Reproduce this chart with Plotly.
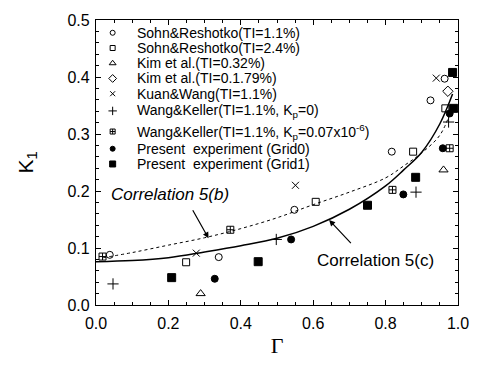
import plotly.graph_objects as go

# ---------------- data ----------------
sohn11_x = [0.038, 0.339, 0.548, 0.817, 0.924, 0.963]
sohn11_y = [0.088, 0.084, 0.167, 0.269, 0.359, 0.397]
sohn24_x = [0.249, 0.607, 0.876, 0.965]
sohn24_y = [0.075, 0.181, 0.269, 0.345]
kim032_x = [0.289, 0.960]
kim032_y = [0.020, 0.237]
kim179_x = [0.972]
kim179_y = [0.375]
kuan_x = [0.277, 0.551, 0.940]
kuan_y = [0.091, 0.210, 0.398]
wk0_x = [0.047, 0.498, 0.884, 0.974]
wk0_y = [0.037, 0.115, 0.198, 0.321]
wk07_x = [0.018, 0.371, 0.819, 0.977]
wk07_y = [0.085, 0.132, 0.202, 0.275]
grid0_x = [0.328, 0.539, 0.849, 0.958, 0.977]
grid0_y = [0.046, 0.115, 0.194, 0.275, 0.336]
grid1_x = [0.209, 0.448, 0.750, 0.883, 0.985, 0.988]
grid1_y = [0.048, 0.076, 0.175, 0.224, 0.408, 0.345]

corr5c_x = [0.0, 0.1, 0.2, 0.3, 0.4, 0.5, 0.6, 0.7, 0.8, 0.85, 0.9, 0.95, 0.985]
corr5c_y = [0.076, 0.078, 0.083, 0.093, 0.104, 0.117, 0.138, 0.168, 0.209, 0.237, 0.268, 0.318, 0.370]
corr5b_x = [0.02, 0.1, 0.2, 0.3, 0.4, 0.5, 0.6, 0.7, 0.8, 0.85, 0.9, 0.95, 0.98]
corr5b_y = [0.083, 0.092, 0.105, 0.118, 0.134, 0.153, 0.176, 0.198, 0.223, 0.244, 0.267, 0.298, 0.340]

legend_labels = [
    "Sohn&Reshotko(TI=1.1%)",
    "Sohn&Reshotko(TI=2.4%)",
    "Kim et al.(TI=0.32%)",
    "Kim et al.(TI=0.1.79%)",
    "Kuan&Wang(TI=1.1%)",
    "Wang&Keller(TI=1.1%, K<sub>p</sub>=0)",
    "Wang&Keller(TI=1.1%, K<sub>p</sub>=0.07x10<sup>-6</sup>)",
    "Present  experiment (Grid0)",
    "Present  experiment (Grid1)",
]

x_ticks = [0.0, 0.2, 0.4, 0.6, 0.8, 1.0]
y_ticks = [0.0, 0.1, 0.2, 0.3, 0.4, 0.5]

# ---------------- styling ----------------
FONT = "Liberation Sans, Arial"
series = [
    (sohn11_x, sohn11_y, "circle-open", 7),
    (sohn24_x, sohn24_y, "square-open", 7),
    (kim032_x, kim032_y, "triangle-up-open", 8),
    (kim179_x, kim179_y, "diamond-open", 8),
    (kuan_x, kuan_y, "x-thin-open", 7),
    (wk0_x, wk0_y, "cross-thin-open", 8),
    (wk07_x, wk07_y, "square-cross-open", 7),
    (grid0_x, grid0_y, "circle", 7),
    (grid1_x, grid1_y, "square", 8),
]

fig = go.Figure()

fig.add_trace(go.Scatter(x=corr5b_x, y=corr5b_y, mode="lines", line_shape="spline",
                         line=dict(color="black", width=1, dash="dot"), showlegend=False))
fig.add_trace(go.Scatter(x=corr5c_x, y=corr5c_y, mode="lines", line_shape="spline",
                         line=dict(color="black", width=1.5), showlegend=False))

for xs, ys, sym, sz in series:
    fig.add_trace(go.Scatter(x=xs, y=ys, mode="markers", showlegend=False,
                             marker=dict(symbol=sym, size=sz, color="black",
                                         line=dict(color="black", width=1))))

# compact legend: symbols on a helper 0..1 axis, labels as annotations
PLOT_TOP, PLOT_H = 15, 290
row_px = [28, 43.5, 59, 74.5, 90, 107.5, 128.5, 146, 161.5]
rows = [(PLOT_TOP + PLOT_H - p) / PLOT_H for p in row_px]
leg_sym_x = 0.046
leg_txt_x = 0.107
for (xs, ys, sym, sz), yy, lab in zip(series, rows, legend_labels):
    fig.add_trace(go.Scatter(x=[leg_sym_x], y=[yy], xaxis="x2", yaxis="y2", mode="markers",
                             showlegend=False, hoverinfo="skip",
                             marker=dict(symbol=sym, size=sz - 2, color="black",
                                         line=dict(color="black", width=1))))
    fig.add_annotation(x=leg_txt_x, y=yy, xref="x2", yref="y2", text=lab, showarrow=False,
                       xanchor="left", yanchor="middle",
                       font=dict(family=FONT, size=14, color="black"))

# correlation labels and arrows
fig.add_annotation(x=0.205, y=0.193, text="<i>Correlation 5(b)</i>", showarrow=False,
                   font=dict(family=FONT, size=17, color="black"))
fig.add_annotation(x=0.311, y=0.117, ax=0.265, ay=0.169, axref="x", ayref="y",
                   text="", showarrow=True, arrowhead=2, arrowsize=1, arrowwidth=1.2,
                   arrowcolor="black")
fig.add_annotation(x=0.772, y=0.078, text="Correlation 5(c)", showarrow=False,
                   font=dict(family=FONT, size=17, color="black"))
fig.add_annotation(x=0.644, y=0.149, ax=0.708, ay=0.106, axref="x", ayref="y",
                   text="", showarrow=True, arrowhead=2, arrowsize=1, arrowwidth=1.2,
                   arrowcolor="black")

axis_common = dict(showline=True, linecolor="black", linewidth=1.3, mirror="ticks",
                   ticks="inside", ticklen=5, tickwidth=1, tickcolor="black",
                   showgrid=False, zeroline=False,
                   tickfont=dict(family=FONT, size=16, color="black"))

fig.update_layout(
    width=481, height=371,
    margin=dict(l=96, r=19, t=15, b=66),
    paper_bgcolor="white", plot_bgcolor="white",
    xaxis=dict(range=[0.0, 1.0], tickvals=x_ticks, ticktext=[f"{v:.1f}" for v in x_ticks],
               minor=dict(dtick=0.05, ticks="inside", ticklen=3, tickcolor="black"),
               ticklabelstandoff=4,
               title=dict(text="Γ", font=dict(family="Liberation Serif, Times New Roman", size=22,
                                              color="black"), standoff=6),
               **axis_common),
    yaxis=dict(range=[0.0, 0.5], tickvals=y_ticks, ticktext=[f"{v:.1f}" for v in y_ticks],
               minor=dict(dtick=0.02, ticks="inside", ticklen=3, tickcolor="black"),
               ticklabelstandoff=2,
               title=dict(text="K<sub>1</sub>", font=dict(family=FONT, size=21, color="black"),
                          standoff=28),
               **axis_common),
    xaxis2=dict(overlaying="x", range=[0, 1], visible=False, fixedrange=True),
    yaxis2=dict(overlaying="y", range=[0, 1], visible=False, fixedrange=True),
    showlegend=False,
)

fig.write_html("out.html")
